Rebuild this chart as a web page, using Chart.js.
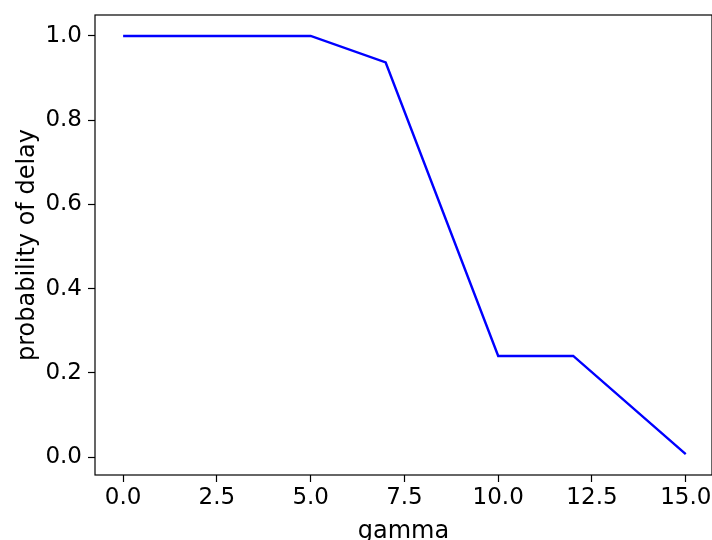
<!DOCTYPE html>
<html>
<head>
<meta charset="utf-8">
<script src="https://cdn.jsdelivr.net/npm/chart.js@4"></script>
<style>
  html, body { margin: 0; padding: 0; background: #fff; }
  canvas { display: block; }
</style>
</head>
<body>
<canvas id="delayChart" width="712" height="540"></canvas>
<script>
// values
const gammaValues = [0, 5, 7, 10, 12, 15];
const delayProb = [1.0, 1.0, 0.937, 0.24, 0.24, 0.007];
const xTickValues = [0, 2.5, 5, 7.5, 10, 12.5, 15];
const yTickValues = [0, 0.2, 0.4, 0.6, 0.8, 1.0];

const tickFont = { family: 'DejaVu Sans', size: 23 };
const titleFont = { family: 'DejaVu Sans', size: 24 };

// matplotlib-style box round the axes
const frame = {
  id: 'frame',
  afterDraw(chart) {
    const { ctx, chartArea } = chart;
    ctx.save();
    ctx.strokeStyle = '#000';
    ctx.lineWidth = 1.2;
    ctx.strokeRect(chartArea.left, chartArea.top, chartArea.right - chartArea.left, chartArea.bottom - chartArea.top);
    ctx.restore();
  }
};

function makeChart() {
  const canvas = document.getElementById('delayChart');

  new Chart(canvas, {
    type: 'line',
    data: {
      datasets: [{
        label: 'probability of delay',
        data: gammaValues.map((g, i) => ({ x: g, y: delayProb[i] })),
        borderColor: '#0000ff',
        borderWidth: 2.4,
        pointRadius: 0,
        tension: 0,
        fill: false
      }]
    },
    options: {
      responsive: false,
      animation: false,
      layout: { padding: { top: 15, right: 0, left: 0, bottom: 0 } },
      plugins: {
        legend: { display: false },
        tooltip: { enabled: false }
      },
      scales: {
        x: {
          type: 'linear',
          min: -0.75,
          max: 15.7,
          afterBuildTicks: scale => { scale.ticks = xTickValues.map(v => ({ value: v })); },
          afterFit: scale => {
            scale.height = 65;
            scale.paddingLeft = 0;
            scale.paddingRight = 0;
          },
          border: { display: false },
          grid: { drawOnChartArea: false, drawTicks: true, tickLength: 7, tickWidth: 1.2, tickColor: '#000' },
          ticks: {
            color: '#000',
            font: tickFont,
            padding: 2,
            maxRotation: 0,
            autoSkip: false,
            callback: v => v.toFixed(1)
          },
          title: {
            display: true,
            text: 'gamma',
            color: '#000',
            font: titleFont,
            padding: { top: 0, bottom: -6 }
          }
        },
        y: {
          min: -0.0427,
          max: 1.0497,
          afterBuildTicks: scale => { scale.ticks = yTickValues.map(v => ({ value: v })); },
          afterFit: scale => {
            scale.width = 95;
            scale.paddingTop = 0;
            scale.paddingBottom = 0;
          },
          border: { display: false },
          grid: { drawOnChartArea: false, drawTicks: true, tickLength: 7, tickWidth: 1.2, tickColor: '#000' },
          ticks: {
            color: '#000',
            font: tickFont,
            padding: 6,
            autoSkip: false,
            callback: v => v.toFixed(1)
          },
          title: {
            display: true,
            text: 'probability of delay',
            color: '#000',
            font: titleFont,
            padding: { top: 13, bottom: 0 }
          }
        }
      }
    },
    plugins: [frame]
  });
}

makeChart();
</script>
</body>
</html>
